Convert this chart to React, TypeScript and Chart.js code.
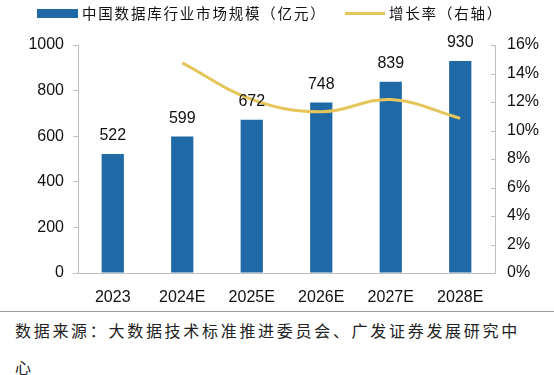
import React, { useEffect, useRef } from "react";
import { Chart, registerables } from "chart.js";

Chart.register(...registerables);

const categories = ["2023", "2024E", "2025E", "2026E", "2027E", "2028E"];
const marketSize = [522, 599, 672, 748, 839, 930];
const growthRate = [null, 14.75, 12.19, 11.31, 12.17, 10.85];
const barLabel = "中国数据库行业市场规模（亿元）";
const lineLabel = "增长率（右轴）";
const sourceLine1 = "数据来源：大数据技术标准推进委员会、广发证券发展研究中";
const sourceLine2 = "心";

const BAR_COLOR = "#1E69A6";
const LINE_COLOR = "#E6C65B";
const AXIS_COLOR = "#BFBFBF";
const LATIN = "'Liberation Sans', Arial, sans-serif";
const CJK = "'Noto Sans CJK SC', sans-serif";

export default function App() {
  const ref = useRef<HTMLCanvasElement | null>(null);

  useEffect(() => {
    document.body.style.margin = "0";
    const ctx = ref.current!;
    const labelPlugin = {
      id: "barLabels",
      afterDatasetsDraw(chart: any) {
        const c = chart.ctx;
        const meta = chart.getDatasetMeta(0);
        c.save();
        c.font = `16px ${LATIN}`;
        c.fillStyle = "#111";
        c.textAlign = "center";
        c.textBaseline = "middle";
        meta.data.forEach((el: any, i: number) => {
          c.fillText(String(marketSize[i]), el.x, el.y - 18);
        });
        c.restore();
      },
      afterDraw(chart: any) {
        const s = chart.scales.y1;
        const c = chart.ctx;
        c.save();
        c.strokeStyle = AXIS_COLOR;
        c.lineWidth = 1;
        s.ticks.forEach((_t: any, i: number) => {
          const y = Math.round(s.getPixelForTick(i)) + 0.5;
          c.beginPath();
          c.moveTo(s.left - 4, y);
          c.lineTo(s.left, y);
          c.stroke();
        });
        c.restore();
      },
    };
    const chart = new Chart(ctx, {
      type: "bar",
      data: {
        labels: categories,
        datasets: [
          {
            type: "bar",
            label: barLabel,
            data: marketSize,
            backgroundColor: BAR_COLOR,
            barPercentage: 0.32,
            categoryPercentage: 1,
            yAxisID: "y",
            order: 1,
          },
          {
            type: "line",
            label: lineLabel,
            data: growthRate as any,
            borderColor: LINE_COLOR,
            borderWidth: 3,
            pointRadius: 0,
            tension: 0.4,
            yAxisID: "y1",
            order: 0,
          } as any,
        ],
      },
      options: {
        animation: false,
        responsive: false,
        maintainAspectRatio: false,
        layout: { padding: { top: 45, left: 0, right: 0, bottom: 0 } },
        plugins: { legend: { display: false }, tooltip: { enabled: false } },
        scales: {
          x: {
            grid: { display: false },
            border: { display: true, color: AXIS_COLOR },
            ticks: { font: { size: 16, family: LATIN }, color: "#111", padding: 7 },
            afterFit(scale: any) {
              scale.height = 32;
            },
          },
          y: {
            position: "left",
            min: 0,
            max: 1000,
            ticks: {
              stepSize: 200,
              font: { size: 16, family: LATIN },
              color: "#111",
              padding: 9,
              callback: (v: any) => String(v),
            },
            grid: { drawOnChartArea: false, tickLength: 5, color: AXIS_COLOR },
            border: { color: AXIS_COLOR },
            afterFit(scale: any) {
              scale.width = 78;
            },
          },
          y1: {
            position: "right",
            min: 0,
            max: 16,
            ticks: {
              stepSize: 2,
              font: { size: 16, family: LATIN },
              color: "#111",
              padding: 12,
              callback: (v: any) => v + "%",
            },
            grid: { drawOnChartArea: false, drawTicks: false, color: AXIS_COLOR },
            border: { color: AXIS_COLOR },
            afterFit(scale: any) {
              scale.width = 59;
            },
          },
        },
      },
      plugins: [labelPlugin],
    });
    return () => chart.destroy();
  }, []);

  return (
    <div style={{ position: "relative", width: 554, height: 375, background: "#fff", overflow: "hidden" }}>
      <canvas ref={ref} width={554} height={305} style={{ position: "absolute", left: 0, top: 0, width: 554, height: 305 }} />
      <div style={{ position: "absolute", left: 37, top: 9, width: 41, height: 9, background: BAR_COLOR }} />
      <div
        style={{
          position: "absolute",
          left: 82,
          top: 2,
          fontFamily: CJK,
          fontSize: 14.5,
          letterSpacing: 1.8,
          lineHeight: "22px",
          color: "#111",
          whiteSpace: "nowrap",
        }}
      >
        {barLabel}
      </div>
      <div style={{ position: "absolute", left: 345, top: 12, width: 40, height: 3, background: LINE_COLOR }} />
      <div
        style={{
          position: "absolute",
          left: 389,
          top: 2,
          fontFamily: CJK,
          fontSize: 14.5,
          letterSpacing: 1.8,
          lineHeight: "22px",
          color: "#111",
          whiteSpace: "nowrap",
        }}
      >
        {lineLabel}
      </div>
      <div style={{ position: "absolute", left: 0, top: 311, width: 554, height: 1, background: "#9a9a9a" }} />
      <div
        style={{
          position: "absolute",
          left: 15,
          top: 312,
          fontFamily: CJK,
          fontSize: 16,
          letterSpacing: 2.7,
          lineHeight: "37px",
          color: "#222",
          whiteSpace: "nowrap",
        }}
      >
        {sourceLine1}
        <br />
        {sourceLine2}
      </div>
    </div>
  );
}
